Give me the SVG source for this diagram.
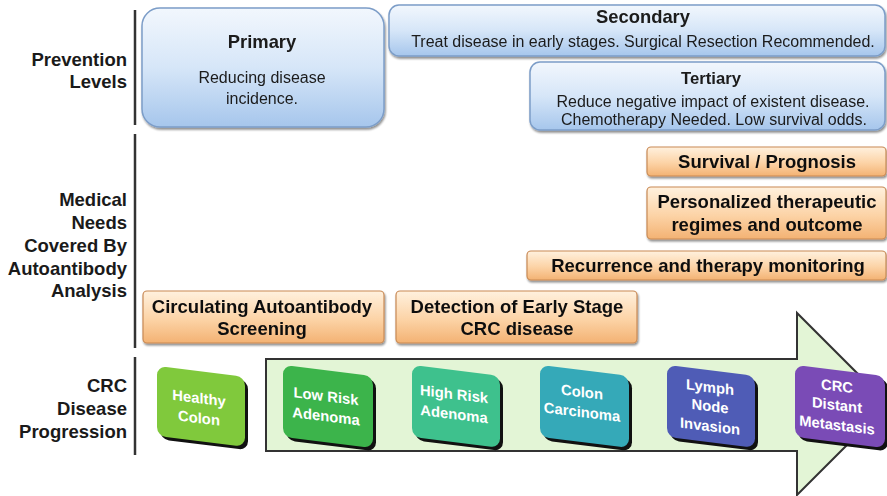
<svg xmlns="http://www.w3.org/2000/svg" width="887" height="496" viewBox="0 0 887 496">
<defs>
<linearGradient id="gBlue" x1="0" y1="0" x2="0" y2="1">
<stop offset="0" stop-color="#f2f7fd"/>
<stop offset="0.5" stop-color="#d6e6f8"/>
<stop offset="1" stop-color="#a6c6ec"/>
</linearGradient>
<linearGradient id="gOrange" x1="0" y1="0" x2="0" y2="1">
<stop offset="0" stop-color="#fff1de"/>
<stop offset="0.55" stop-color="#fcd3a6"/>
<stop offset="1" stop-color="#f3b273"/>
</linearGradient>
<filter id="sh" x="-10%" y="-10%" width="130%" height="140%">
<feGaussianBlur in="SourceAlpha" stdDeviation="1.2"/>
<feOffset dx="1" dy="2"/>
<feComponentTransfer><feFuncA type="linear" slope="0.45"/></feComponentTransfer>
<feMerge><feMergeNode/><feMergeNode in="SourceGraphic"/></feMerge>
</filter>
</defs>
<style>
.lbl{font-family:"Liberation Sans",Arial,sans-serif;font-weight:bold;font-size:18.5px;fill:#1a1a1a;text-anchor:end}
.bar{stroke:#333;stroke-width:2.5}
.blue{fill:url(#gBlue);stroke:#7c9dc8;stroke-width:1.5}
.orange{fill:url(#gOrange);stroke:#c98a55;stroke-width:1.2}
.t{font-family:"Liberation Sans",Arial,sans-serif;fill:#1a1a1a;text-anchor:middle}
.tb{font-weight:bold;font-size:18.4px}
.tn{font-size:16px}
.ot{font-family:"Liberation Sans",Arial,sans-serif;font-weight:bold;font-size:18.5px;fill:#111;text-anchor:middle}
.st{font-family:"Liberation Sans",Arial,sans-serif;font-weight:bold;font-size:14.8px;fill:#fff;text-anchor:middle}
.sshadow{fill:#111}
</style>

<g id="row-labels">
<line class="bar" x1="135" y1="10" x2="135" y2="125"/>
<line class="bar" x1="135" y1="134" x2="135" y2="348"/>
<line class="bar" x1="135" y1="357" x2="135" y2="455"/>
<text class="lbl" x="127" y="66">Prevention</text>
<text class="lbl" x="127" y="88">Levels</text>
<text class="lbl" x="127" y="206">Medical</text>
<text class="lbl" x="127" y="229">Needs</text>
<text class="lbl" x="127" y="252">Covered By</text>
<text class="lbl" x="127" y="275">Autoantibody</text>
<text class="lbl" x="127" y="297">Analysis</text>
<text class="lbl" x="127" y="392">CRC</text>
<text class="lbl" x="127" y="415">Disease</text>
<text class="lbl" x="127" y="438">Progression</text>
</g>

<g id="primary" filter="url(#sh)">
<rect class="blue" x="142" y="8" width="242" height="119" rx="18"/>
<text class="t tb" x="262" y="48">Primary</text>
<text class="t tn" x="262" y="83">Reducing disease</text>
<text class="t tn" x="262" y="104">incidence.</text>
</g>
<g id="secondary" filter="url(#sh)">
<rect class="blue" x="389" y="5" width="496" height="51" rx="10"/>
<text class="t tb" x="643" y="23">Secondary</text>
<text class="t tn" x="643" y="47">Treat disease in early stages. Surgical Resection Recommended.</text>
</g>
<g id="tertiary" filter="url(#sh)">
<rect class="blue" x="530" y="62" width="355" height="68" rx="10"/>
<text class="t" x="711" y="84" style="font-weight:bold;font-size:16.7px">Tertiary</text>
<text class="t tn" x="713" y="107">Reduce negative impact of existent disease.</text>
<text class="t tn" x="714" y="125">Chemotherapy Needed. Low survival odds.</text>
</g>

<g id="survival" filter="url(#sh)">
<rect class="orange" x="647" y="147" width="239" height="29" rx="4"/>
<text class="ot" x="767" y="168">Survival / Prognosis</text>
</g>
<g id="personalized" filter="url(#sh)">
<rect class="orange" x="647" y="187" width="239" height="52" rx="4"/>
<text class="ot" x="767" y="208">Personalized therapeutic</text>
<text class="ot" x="767" y="231">regimes and outcome</text>
</g>
<g id="recurrence" filter="url(#sh)">
<rect class="orange" x="527" y="251" width="359" height="29" rx="4"/>
<text class="ot" x="708" y="272">Recurrence and therapy monitoring</text>
</g>
<g id="circulating" filter="url(#sh)">
<rect class="orange" x="143" y="291" width="241" height="52" rx="4"/>
<text class="ot" x="262" y="313">Circulating Autoantibody</text>
<text class="ot" x="262" y="335">Screening</text>
</g>
<g id="detection" filter="url(#sh)">
<rect class="orange" x="396" y="291" width="241" height="52" rx="4"/>
<text class="ot" x="517" y="313">Detection of Early Stage</text>
<text class="ot" x="517" y="335">CRC disease</text>
</g>

<g id="connectors">
<path d="M266,359 L797,359 L797,313 L888,404 L797,495 L797,451 L266,451 Z" fill="#e3f5d6" stroke="#333" stroke-width="2" stroke-linejoin="miter"/>
</g>

<g id="healthy-colon" transform="translate(157,366) skewY(7)">
<rect class="sshadow" x="3" y="3" width="88" height="70" rx="9"/>
<rect x="0" y="0" width="88" height="70" rx="9" fill="#80c93c"/>
<text class="st" x="42" y="32">Healthy</text>
<text class="st" x="42" y="52">Colon</text>
</g>
<g id="low-risk-adenoma" transform="translate(283,365) skewY(7)">
<rect class="sshadow" x="3" y="3" width="90" height="72" rx="9"/>
<rect x="0" y="0" width="90" height="72" rx="9" fill="#3cb44b"/>
<text class="st" x="43" y="31">Low  Risk</text>
<text class="st" x="43" y="51">Adenoma</text>
</g>
<g id="high-risk-adenoma" transform="translate(412,365) skewY(7)">
<rect class="sshadow" x="3" y="3" width="88" height="72" rx="9"/>
<rect x="0" y="0" width="88" height="72" rx="9" fill="#3ec18d"/>
<text class="st" x="42" y="29">High  Risk</text>
<text class="st" x="42" y="49">Adenoma</text>
</g>
<g id="colon-carcinoma" transform="translate(540,365) skewY(7)">
<rect class="sshadow" x="3" y="3" width="89" height="72" rx="9"/>
<rect x="0" y="0" width="89" height="72" rx="9" fill="#35a9b8"/>
<text class="st" x="42" y="27">Colon</text>
<text class="st" x="42" y="47">Carcinoma</text>
</g>
<g id="lymph-node-invasion" transform="translate(667,365) skewY(7)">
<rect class="sshadow" x="3" y="3" width="88" height="72" rx="9"/>
<rect x="0" y="0" width="88" height="72" rx="9" fill="#4f5cb6"/>
<text class="st" x="43" y="22">Lymph</text>
<text class="st" x="43" y="41">Node</text>
<text class="st" x="43" y="61">Invasion</text>
</g>
<g id="crc-distant-metastasis" transform="translate(795,365) skewY(7)">
<rect class="sshadow" x="3" y="3" width="90" height="72" rx="9"/>
<rect x="0" y="0" width="90" height="72" rx="9" fill="#7a4bb6"/>
<text class="st" x="42" y="21">CRC</text>
<text class="st" x="42" y="40">Distant</text>
<text class="st" x="42" y="60">Metastasis</text>
</g>
</svg>
